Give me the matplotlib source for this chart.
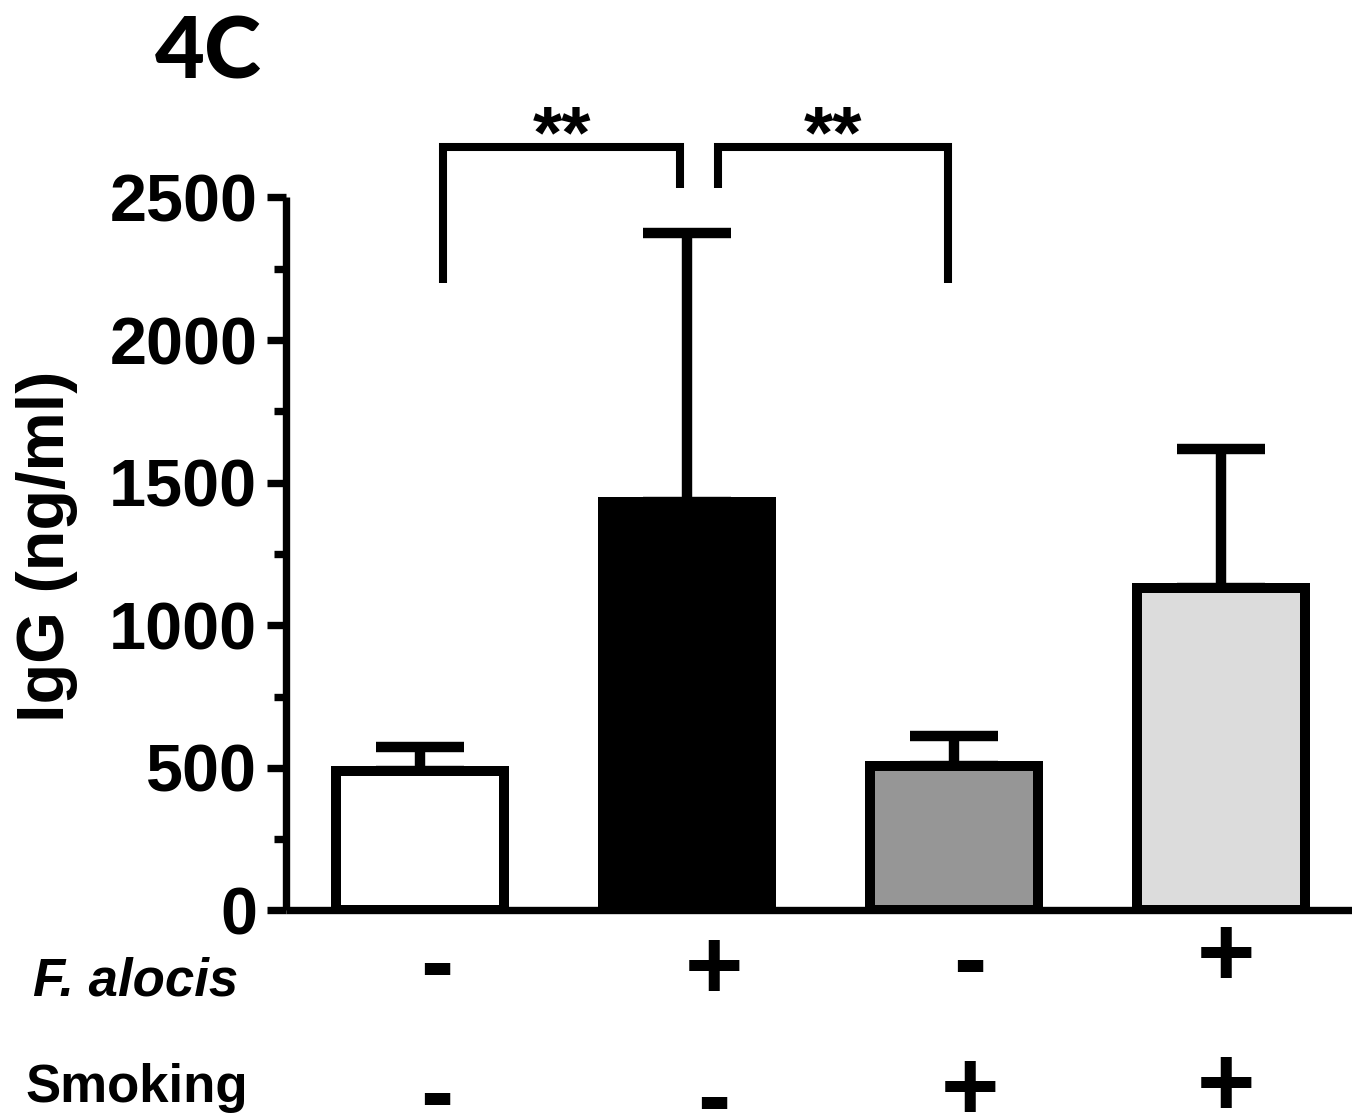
import matplotlib
matplotlib.use("Agg")
import matplotlib.pyplot as plt
import matplotlib.transforms as mtransforms
import numpy as np

# IgG serum levels per group
groups = ["ctrl", "F. alocis", "smoking", "F. alocis + smoking"]
igg_mean = [490, 1432, 505, 1132]
igg_sem = [82, 942, 107, 487]
bar_colors = ["#ffffff", "#000000", "#969696", "#dcdcdc"]

# treatment table under the bars
alocis_signs = ["-", "+", "-", "+"]
smoking_signs = ["-", "-", "+", "+"]

# significance brackets: (x left, x right, y left leg, y right leg, y top)
brackets = [(0.086, 0.975, 2200, 2533, 2677),
            (1.117, 1.979, 2533, 2200, 2677)]
stars = ["**", "**"]

plt.rcParams['font.family'] = ['Liberation Sans', 'DejaVu Sans']

fig = plt.figure(figsize=(13.52, 11.17), dpi=100)
ax = fig.add_axes([0.2119, 0.1849, 0.788, 0.6383])

x = np.arange(len(groups))
ax.errorbar(x, igg_mean, yerr=[np.zeros(len(x)), igg_sem], fmt='none', ecolor='k',
            elinewidth=7.5, capsize=32, capthick=7.5, zorder=1)
ax.bar(x, igg_mean, width=0.63, color=bar_colors, edgecolor='k', linewidth=7.2, zorder=2)

ax.set_xlim(-0.5, 3.49)
ax.set_ylim(0, 2500)
ax.set_yticks(np.arange(0, 2501, 500))
ax.set_yticks(np.arange(250, 2500, 500), minor=True)
ax.set_xticks([])

for s in ['top', 'right']:
    ax.spines[s].set_visible(False)
for s in ['left', 'bottom']:
    ax.spines[s].set_linewidth(5.3)
    ax.spines[s].set_capstyle('butt')

ax.tick_params(axis='y', which='major', length=14, width=5.3, pad=7, labelsize=48)
ax.tick_params(axis='y', which='minor', length=9, width=5.3)
for lbl in ax.get_yticklabels():
    lbl.set_fontweight('bold')

fig.text(0.0348, 0.511, "IgG (ng/ml)", rotation=90, ha='center', va='center',
         fontsize=48, fontweight='bold')

# significance brackets
for (x0, x1, y0, y1, ytop), s in zip(brackets, stars):
    ax.plot([x0, x0, x1, x1], [y0, ytop, ytop, y1], color='k', lw=5.8,
            solid_joinstyle='miter', solid_capstyle='butt', clip_on=False)
    ax.text((x0 + x1) / 2, 2640, s, ha='center', va='baseline', fontsize=54,
            fontweight='bold', clip_on=False)

# +/- table below the axis (baselines in figure fraction)
trans = mtransforms.blended_transform_factory(ax.transData, fig.transFigure)
sign_dx = [0.064, 0.101, 0.06, 0.019]
alocis_y = [0.1088, 0.1057, 0.1119, 0.1173]
smoking_y = [-0.0072, -0.0107, -0.0027, 0.0009]
for i in range(len(groups)):
    fig.text(x[i] + sign_dx[i], alocis_y[i], alocis_signs[i], transform=trans,
             ha='center', va='baseline', fontsize=72, fontweight='bold')
    fig.text(x[i] + sign_dx[i], smoking_y[i], smoking_signs[i], transform=trans,
             ha='center', va='baseline', fontsize=72, fontweight='bold')

fig.text(0.1006, 0.109, "F. alocis", ha='center', va='baseline', fontsize=38,
         fontweight='bold', fontstyle='italic')
fig.text(0.1013, 0.0134, "Smoking", ha='center', va='baseline', fontsize=38,
         fontweight='bold')

fig.text(0.154, 0.930, "4C", ha='center', va='baseline', fontsize=62,
         fontweight='black', family=['Lato', 'DejaVu Sans'])

fig.savefig("out.png", dpi=100)
